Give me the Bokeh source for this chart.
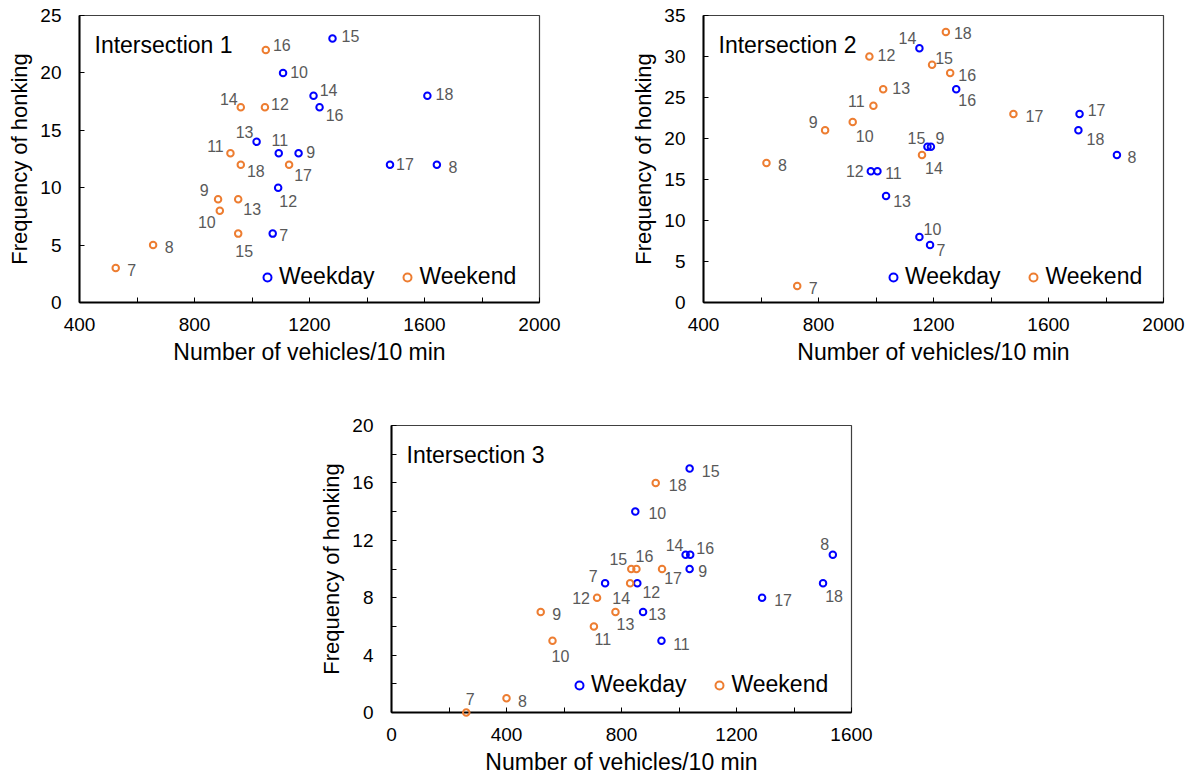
from bokeh.plotting import figure
from bokeh.models import ColumnDataSource, Range1d, FixedTicker, Legend, LegendItem, Label
from bokeh.layouts import column, row
from bokeh.embed import file_html
from bokeh.resources import INLINE
from bokeh.core.properties import value

# ---------------- data ----------------
hours = ["7", "8", "9", "10", "11", "12", "13", "14", "15", "16", "17", "18"]

i1_weekday_x = [1072, 1643, 1162, 1108, 1093, 1091, 1016, 1214, 1280, 1235, 1480, 1610]
i1_weekday_y = [6, 12, 13, 20, 13, 10, 14, 18, 23, 17, 12, 18]
i1_weekend_x = [526, 656, 882, 888, 925, 1045, 952, 961, 952, 1048, 1129, 961]
i1_weekend_y = [3, 5, 9, 8, 13, 17, 9, 17, 6, 22, 12, 12]

i2_weekday_x = [1188, 1838, 1191, 1151, 1005, 982, 1035, 1151, 1179, 1279, 1708, 1704]
i2_weekday_y = [7, 18, 19, 8, 16, 16, 13, 31, 19, 26, 23, 21]
i2_weekend_x = [726, 619, 823, 919, 991, 977, 1025, 1160, 1195, 1258, 1478, 1243]
i2_weekend_y = [2, 17, 21, 22, 24, 30, 26, 18, 29, 28, 23, 33]

i3_weekday_x = [743, 1535, 1037, 848, 939, 855, 875, 1023, 1037, 1039, 1289, 1501]
i3_weekday_y = [9, 11, 10, 14, 5, 9, 7, 11, 17, 11, 8, 9]
i3_weekend_x = [260, 400, 519, 560, 704, 715, 779, 830, 834, 852, 941, 919]
i3_weekend_y = [0, 1, 7, 5, 6, 8, 7, 9, 10, 10, 10, 16]

x_ticks_12 = [400, 800, 1200, 1600, 2000]
x_ticks_3 = [0, 400, 800, 1200, 1600]
y_ticks_1 = [0, 5, 10, 15, 20, 25]
y_ticks_2 = [0, 5, 10, 15, 20, 25, 30, 35]
y_ticks_3 = [0, 4, 8, 12, 16, 20]

# label placement (screen px offsets of hour labels from their points)
i1_wd_off = [(11, 1), (16, 2), (12, -1), (16, -1), (1, -13), (10, 13), (-12, -10), (15, -6), (18, -2), (15, 8), (15, -1), (17, -2)]
i1_we_off = [(16, 2), (16, 2), (-14, -9), (-13, 11), (-15, -7), (15, -3), (14, 10), (-12, -8), (6, 17), (16, -5), (14, 10), (15, 6)]
i2_wd_off = [(11, 5), (15, 2), (9, -9), (13, -8), (16, 2), (-16, 0), (16, 5), (-12, -10), (-11, -9), (11, 11), (17, -4), (17, 9)]
i2_we_off = [(16, 2), (16, 2), (-12, -8), (12, 14), (-17, -5), (17, -2), (18, -1), (12, 13), (12, -7), (17, 2), (21, 2), (17, 1)]
i3_wd_off = [(-12, -7), (-8, -11), (13, 2), (22, 1), (20, 3), (14, 9), (14, 2), (-11, -10), (21, 2), (15, -7), (21, 2), (11, 13)]
i3_we_off = [(4, -14), (16, 3), (16, 2), (8, 15), (9, 13), (-16, 0), (10, 12), (-9, 15), (-13, -10), (8, -13), (11, 9), (22, 2)]

BLUE = "#0000FF"
ORANGE = "#ED7D31"
FONT = "Liberation Sans"


def make_chart(title, xr, yr, xticks, xminor, yticks, yminor,
               wdx, wdy, wex, wey, wd_off, we_off, borders, legend_x):
    bl, br, bt, bb = borders
    p = figure(frame_width=460, frame_height=287, output_backend="svg",
               toolbar_location=None, x_range=Range1d(*xr), y_range=Range1d(*yr),
               min_border_left=bl, min_border_right=br, min_border_top=bt,
               min_border_bottom=bb)
    p.xgrid.visible = False
    p.ygrid.visible = False
    p.outline_line_color = "#404040"
    p.outline_line_width = 1.2
    p.background_fill_color = "white"

    p.xaxis.ticker = FixedTicker(ticks=xticks, minor_ticks=xminor)
    p.yaxis.ticker = FixedTicker(ticks=yticks, minor_ticks=yminor)
    for ax in (p.xaxis[0], p.yaxis[0]):
        ax.axis_line_color = "black"
        ax.axis_line_width = 2
        ax.major_tick_in = 5
        ax.major_tick_out = 0
        ax.minor_tick_in = 5
        ax.minor_tick_out = 0
        ax.major_tick_line_color = "black"
        ax.minor_tick_line_color = "black"
        ax.major_label_text_font = FONT
        ax.major_label_text_font_size = "19px"
        ax.major_label_text_color = "black"
        ax.axis_label_text_font = FONT
        ax.axis_label_text_font_style = "normal"
        ax.axis_label_text_color = "black"
    p.xaxis.axis_label = "Number of vehicles/10 min"
    p.yaxis.axis_label = "Frequency of honking"
    p.xaxis.axis_label_text_font_size = "23px"
    p.yaxis.axis_label_text_font_size = "22px"
    p.xaxis.major_label_standoff = 15
    p.yaxis.major_label_standoff = 18
    p.xaxis.axis_label_standoff = 5
    p.yaxis.axis_label_standoff = 5

    r_wd = p.scatter(wdx, wdy, marker="circle", size=6.5, line_width=2,
                     line_color=BLUE, fill_alpha=0, level="overlay")
    r_we = p.scatter(wex, wey, marker="circle", size=6.5, line_width=2,
                     line_color=ORANGE, fill_alpha=0, level="overlay")

    src = ColumnDataSource(dict(
        x=list(wdx) + list(wex), y=list(wdy) + list(wey), t=hours + hours,
        dx=[o[0] for o in wd_off] + [o[0] for o in we_off],
        dy=[o[1] for o in wd_off] + [o[1] for o in we_off]))
    p.text(x="x", y="y", text="t", x_offset="dx", y_offset="dy", source=src,
           text_align="center", text_baseline="middle",
           text_font=value(FONT), text_font_size="16px", text_color="#595959")

    p.add_layout(Label(x=15, y=287 - 29, x_units="screen", y_units="screen",
                       text=title, text_font=FONT, text_font_size="23px",
                       text_color="black", text_baseline="middle"))

    leg = Legend(items=[LegendItem(label="Weekday", renderers=[r_wd]),
                        LegendItem(label="Weekend", renderers=[r_we])],
                 orientation="horizontal", location=legend_x,
                 label_text_font=FONT, label_text_font_size="23px",
                 label_text_color="black", glyph_width=20, glyph_height=20,
                 label_standoff=2, spacing=23, padding=0, margin=0,
                 background_fill_alpha=0, border_line_alpha=0)
    p.add_layout(leg)
    return p


p1 = make_chart("Intersection 1", (400, 2000), (0, 25), x_ticks_12,
                [600, 1000, 1400, 1800], y_ticks_1, [],
                i1_weekday_x, i1_weekday_y, i1_weekend_x, i1_weekend_y,
                i1_wd_off, i1_we_off, (79, 85, 15, 70), (178, 12))
p2 = make_chart("Intersection 2", (400, 2000), (0, 35), x_ticks_12,
                [600, 1000, 1400, 1800], y_ticks_2, [],
                i2_weekday_x, i2_weekday_y, i2_weekend_x, i2_weekend_y,
                i2_wd_off, i2_we_off, (79, 31, 15, 70), (180, 12))
p3 = make_chart("Intersection 3", (0, 1600), (0, 20), x_ticks_3,
                [200, 600, 1000, 1400], y_ticks_3, [2, 6, 10, 14, 18],
                i3_weekday_x, i3_weekday_y, i3_weekend_x, i3_weekend_y,
                i3_wd_off, i3_we_off, (391, 343, 53, 63), (178, 14))

layout = column(row(p1, p2), p3)
open("out.html", "w").write(file_html(layout, INLINE))
